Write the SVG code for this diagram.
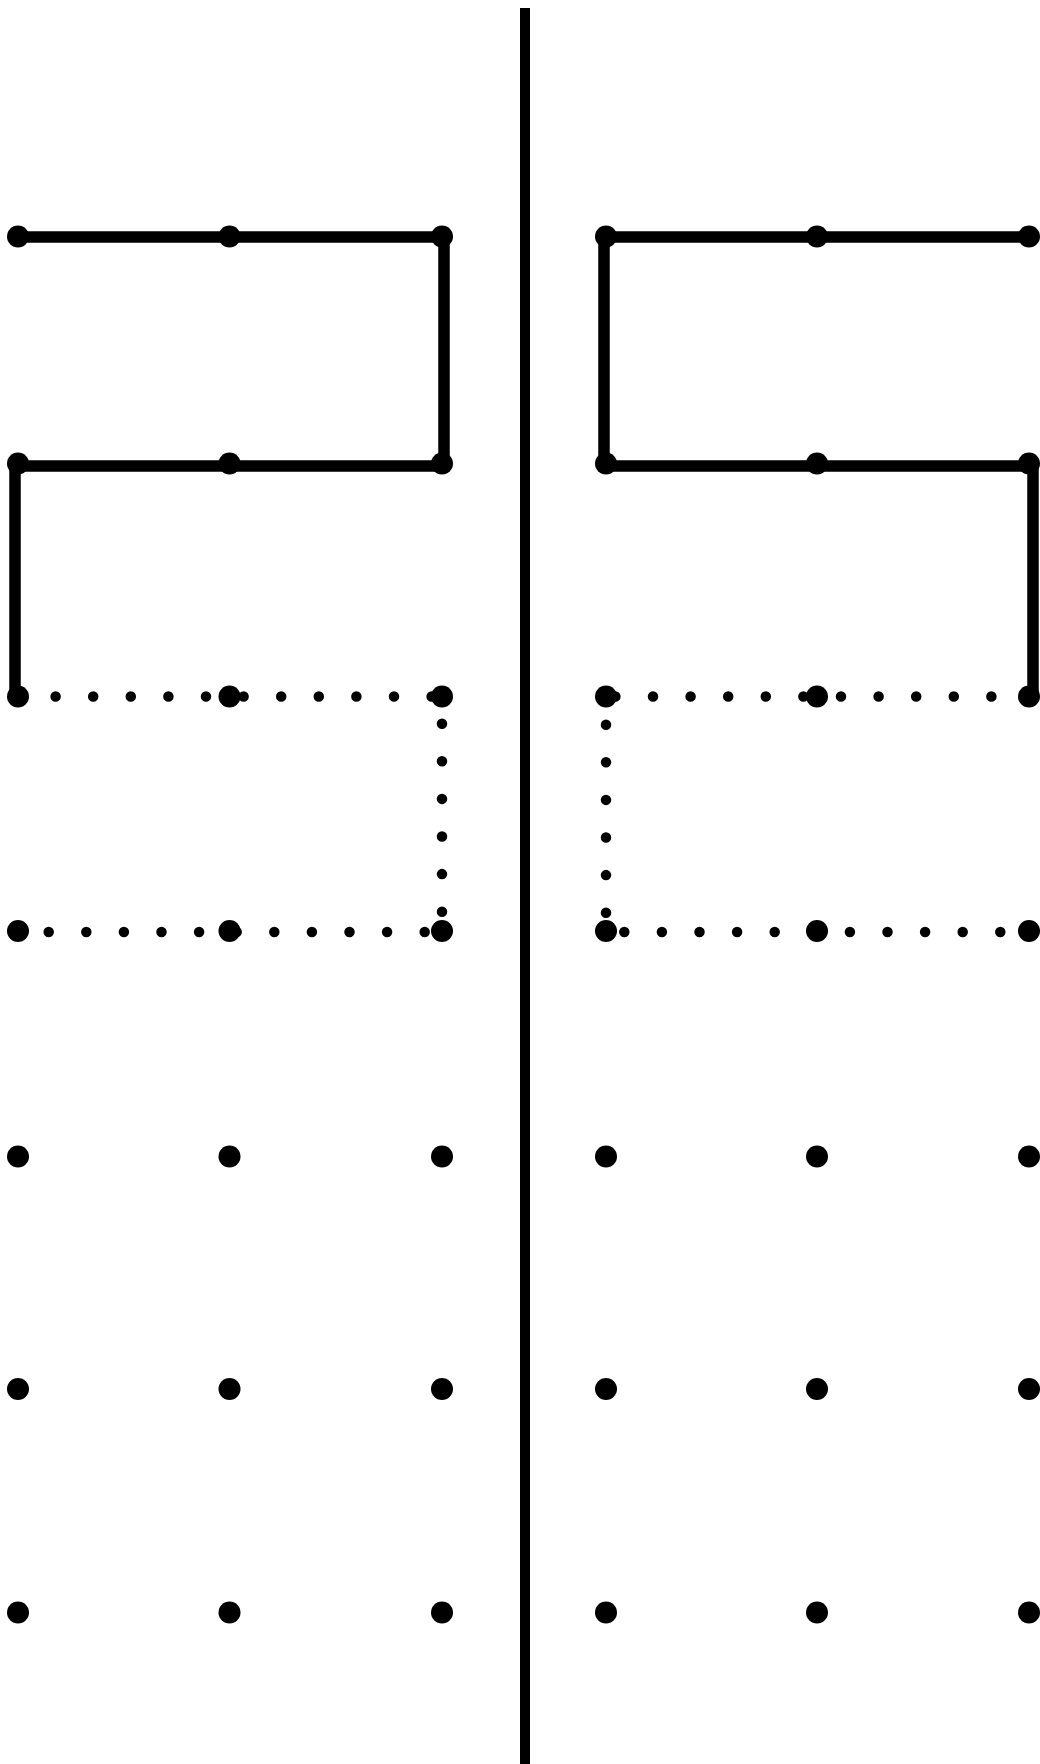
<svg xmlns="http://www.w3.org/2000/svg" width="1040" height="1764" viewBox="0 0 1040 1764">
<style>
.solid{fill:none;stroke:#000;stroke-width:11.5;stroke-linejoin:miter;stroke-linecap:butt}
.dotted{fill:none;stroke:#000;stroke-width:10.5;stroke-linecap:round;stroke-dasharray:0 37.6}
.dot{fill:#000}
</style>
<rect width="1040" height="1764" fill="#fff"/>
<g id="divider">
<line x1="525" y1="8" x2="525" y2="1764" stroke="#000" stroke-width="10"/>
</g>
<g id="connectors">
<polyline class="solid" points="18,237 444,237 444,466 15,466 15,696"/>
<polyline class="solid" points="1029,237 604,237 604,466 1033,466 1033,696"/>
<polyline class="dotted" points="18,696.5 442,696.5 442,932 18,932"/>
<polyline class="dotted" points="1029,696.5 606,696.5 606,932 1029,932"/>
</g>
<g id="nodes">
<g id="L-r1"><circle class="dot" cx="18" cy="236.5" r="11"/><circle class="dot" cx="229.5" cy="236.5" r="11"/><circle class="dot" cx="442" cy="236.5" r="11"/></g>
<g id="L-r2"><circle class="dot" cx="18" cy="463.5" r="11"/><circle class="dot" cx="229.5" cy="463.5" r="11"/><circle class="dot" cx="442" cy="463.5" r="11"/></g>
<g id="L-r3"><circle class="dot" cx="18" cy="696.5" r="11"/><circle class="dot" cx="229.5" cy="696.5" r="11"/><circle class="dot" cx="442" cy="696.5" r="11"/></g>
<g id="L-r4"><circle class="dot" cx="18" cy="931" r="11"/><circle class="dot" cx="229.5" cy="931" r="11"/><circle class="dot" cx="442" cy="931" r="11"/></g>
<g id="L-r5"><circle class="dot" cx="18" cy="1156.5" r="11"/><circle class="dot" cx="229.5" cy="1156.5" r="11"/><circle class="dot" cx="442" cy="1156.5" r="11"/></g>
<g id="L-r6"><circle class="dot" cx="18" cy="1389" r="11"/><circle class="dot" cx="229.5" cy="1389" r="11"/><circle class="dot" cx="442" cy="1389" r="11"/></g>
<g id="L-r7"><circle class="dot" cx="18" cy="1612.5" r="11"/><circle class="dot" cx="229.5" cy="1612.5" r="11"/><circle class="dot" cx="442" cy="1612.5" r="11"/></g>
<g id="R-r1"><circle class="dot" cx="606" cy="236.5" r="11"/><circle class="dot" cx="817" cy="236.5" r="11"/><circle class="dot" cx="1029" cy="236.5" r="11"/></g>
<g id="R-r2"><circle class="dot" cx="606" cy="463.5" r="11"/><circle class="dot" cx="817" cy="463.5" r="11"/><circle class="dot" cx="1029" cy="463.5" r="11"/></g>
<g id="R-r3"><circle class="dot" cx="606" cy="696.5" r="11"/><circle class="dot" cx="817" cy="696.5" r="11"/><circle class="dot" cx="1029" cy="696.5" r="11"/></g>
<g id="R-r4"><circle class="dot" cx="606" cy="931" r="11"/><circle class="dot" cx="817" cy="931" r="11"/><circle class="dot" cx="1029" cy="931" r="11"/></g>
<g id="R-r5"><circle class="dot" cx="606" cy="1156.5" r="11"/><circle class="dot" cx="817" cy="1156.5" r="11"/><circle class="dot" cx="1029" cy="1156.5" r="11"/></g>
<g id="R-r6"><circle class="dot" cx="606" cy="1389" r="11"/><circle class="dot" cx="817" cy="1389" r="11"/><circle class="dot" cx="1029" cy="1389" r="11"/></g>
<g id="R-r7"><circle class="dot" cx="606" cy="1612.5" r="11"/><circle class="dot" cx="817" cy="1612.5" r="11"/><circle class="dot" cx="1029" cy="1612.5" r="11"/></g>
</g>
</svg>
